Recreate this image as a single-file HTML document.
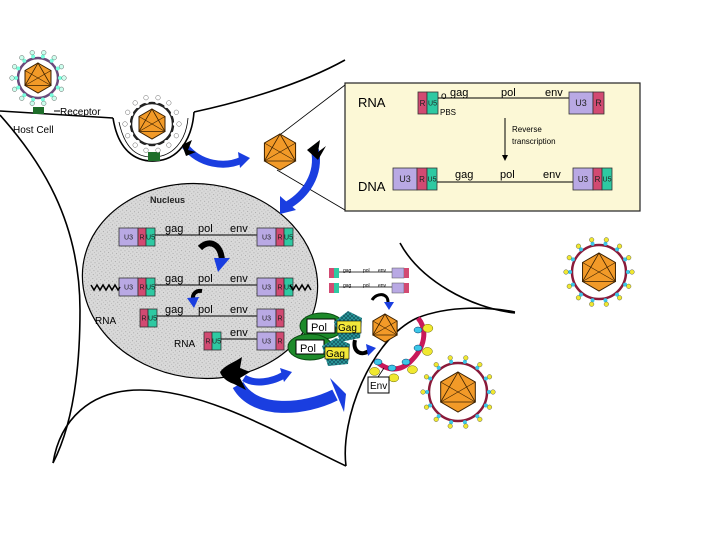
<!DOCTYPE html>
<html><head><meta charset="utf-8"><style>
html,body{margin:0;padding:0;background:#fff;width:720px;height:540px;overflow:hidden}
svg{display:block}
text{font-family:"Liberation Sans",sans-serif}
</style></head><body>
<svg id="s" width="720" height="540" viewBox="0 0 720 540" xmlns="http://www.w3.org/2000/svg">
<defs>
<pattern id="dots" width="4" height="4" patternUnits="userSpaceOnUse">
<rect width="4" height="4" fill="#d9d9d9"/><rect x="1" y="1" width="1" height="1" fill="#a8a8a8"/><rect x="3" y="3" width="1" height="1" fill="#bbb"/>
</pattern>
<pattern id="hatch" width="4" height="4" patternUnits="userSpaceOnUse">
<rect width="4" height="4" fill="#2a9a9a"/><path d="M0 0L4 4M4 0L0 4" stroke="#145" stroke-width="0.6"/>
</pattern>
</defs>
<!-- cell outlines -->
<g fill="none" stroke="#000" stroke-width="1.6">
<path d="M0 111 L113 118"/>
<path d="M113 118 C118 150 135 162 155 161 C178 160 192 140 194 112"/>
<path d="M194 112 C240 102 300 85 345 60"/>
<path d="M0 115 C40 160 80 220 80 310 C80 380 70 430 53 463"/>
<path d="M53 463 C60 420 90 390 140 390 C210 390 290 440 346 466"/>
<path d="M346 466 C340 420 370 340 417 318"/>
<path d="M417 318 C450 305 490 307 515 312"/>
<path d="M400 243 C420 280 470 308 515 313"/>
</g>
<g fill="none" stroke="#000" stroke-width="0.8">
<path d="M119 122 C125 150 138 158 155 157 C172 156 186 142 188 118"/>
<path d="M277 137 L345 85"/>
<path d="M277 170 L345 210"/>
</g>
<!-- receptor labels -->
<line x1="54" y1="111" x2="60" y2="111" stroke="#000"/>
<text x="60" y="115" font-size="10">Receptor</text>
<text x="13" y="133" font-size="10">Host Cell</text>
<rect x="33" y="107" width="11" height="7" fill="#1f6e2a"/>
<rect x="148" y="152" width="12" height="9" fill="#1f6e2a"/>
<!-- RNA box -->
<rect x="345" y="83" width="295" height="128" fill="#fcf8d6" stroke="#222" stroke-width="1.2"/>
<text x="358" y="107" font-size="13">RNA</text>
<text x="358" y="191" font-size="13">DNA</text>
<text x="512" y="132" font-size="8">Reverse</text>
<text x="512" y="144" font-size="8">transcription</text>
<line x1="505" y1="118" x2="505" y2="156" stroke="#000"/>
<path d="M502 155 L508 155 L505 161Z" fill="#000"/>
<text x="440" y="115" font-size="8">PBS</text>
<text x="441" y="99" font-size="10">o</text>
<!-- nucleus -->
<ellipse cx="200" cy="281" rx="118" ry="97" fill="url(#dots)" stroke="#000" stroke-width="1.2" transform="rotate(8 200 281)"/>
<text x="150" y="203" font-size="9" font-weight="bold" fill="#222">Nucleus</text>
<text x="95" y="324" font-size="10">RNA</text>
<text x="174" y="347" font-size="10">RNA</text>
<g id="gen"></g>
<!-- squiggles -->
<path d="M91 285 l3 5 l3 -5 l3 5 l3 -5 l3 5 l3 -5 l3 5 l3 -5 l3 5 l2 -3" fill="none" stroke="#000" stroke-width="1.5"/>
<path d="M290 285 l3 5 l3 -5 l3 5 l3 -5 l3 5 l3 -5 l3 5" fill="none" stroke="#000" stroke-width="1.5"/>
<!-- small curved arrows in nucleus -->
<path d="M200 248 C210 238 222 245 222 262" fill="none" stroke="#000" stroke-width="6"/>
<path d="M214 258 L230 258 L218 272Z" fill="#1a3ee0"/>
<path d="M202 291 C196 290 192 294 193 300" fill="none" stroke="#000" stroke-width="4"/>
<path d="M187 298 L199 297 L194 308Z" fill="#1a3ee0"/>
<!-- Pol Gag -->
<ellipse cx="322" cy="326" rx="22" ry="13" fill="#1d8a2a" stroke="#0a4a12"/>
<ellipse cx="310" cy="347" rx="22" ry="13" fill="#1d8a2a" stroke="#0a4a12"/>
<rect x="307" y="319" width="28" height="14" fill="#fff" stroke="#000"/>
<text x="311" y="331" font-size="11">Pol</text>
<rect x="296" y="340" width="28" height="14" fill="#fff" stroke="#000"/>
<text x="300" y="352" font-size="11">Pol</text>
<path d="M348 311 L362 318 L360 338 L340 342 L334 322Z" fill="url(#hatch)"/>
<rect x="337" y="321" width="24" height="12" fill="#f2e83a" stroke="#000" stroke-width="0.6"/>
<text x="338" y="331" font-size="10">Gag</text>
<path d="M336 338 L350 344 L348 364 L328 366 L322 346Z" fill="url(#hatch)"/>
<rect x="325" y="347" width="24" height="12" fill="#f2e83a" stroke="#000" stroke-width="0.6"/>
<text x="326" y="357" font-size="10">Gag</text>
<!-- small genomes -->
<g id="sm"></g>
<path d="M372 300 C377 292 388 293 388 302" fill="none" stroke="#000" stroke-width="3"/>
<path d="M384 302 L394 302 L389 310Z" fill="#1a3ee0"/>
<path d="M355 340 C352 352 362 357 370 350" fill="none" stroke="#000" stroke-width="4"/>
<path d="M366 344 L376 348 L368 356Z" fill="#1a3ee0"/>
<!-- budding membrane -->
<path d="M418 318 C428 330 425 348 410 362 C398 373 385 370 375 360" fill="none" stroke="#c8195a" stroke-width="5"/>
<g id="env"></g>
<rect x="368" y="377" width="21" height="16" fill="#fff" stroke="#000"/>
<text x="370" y="389" font-size="10">Env</text>
<line x1="378" y1="377" x2="384" y2="368" stroke="#000" stroke-width="0.8"/>
<!-- big arrows -->
<path d="M185 146 C200 165 225 168 242 160" fill="none" stroke="#1a3ee0" stroke-width="7"/>
<path d="M238 152 L250 158 L240 168Z" fill="#1a3ee0"/>
<path d="M182 145 L192 140 L188 150 L196 152 L186 156Z" fill="#000"/>
<path d="M315 150 C320 175 305 195 288 205" fill="none" stroke="#1a3ee0" stroke-width="8"/>
<path d="M280 196 L296 210 L280 214Z" fill="#1a3ee0"/>
<path d="M307 150 L320 140 L318 152 L326 146 L318 160Z" fill="#000"/>
<path d="M238 385 C255 415 305 410 335 395" fill="none" stroke="#1a3ee0" stroke-width="12"/>
<path d="M330 378 L346 394 L344 412Z" fill="#1a3ee0"/>
<path d="M244 378 C255 385 272 382 284 375" fill="none" stroke="#1a3ee0" stroke-width="7"/>
<path d="M280 368 L292 372 L284 382Z" fill="#1a3ee0"/>
<path d="M220 372 C225 365 235 362 242 357 L240 368 L250 372 L240 378 L246 390 L234 384 C228 382 222 378 220 372Z" fill="#000"/>
<g id="vir"></g>
</svg>
<script>
const NS="http://www.w3.org/2000/svg";
function el(p,t,a,txt){const e=document.createElementNS(NS,t);for(const k in a)e.setAttribute(k,a[k]);if(txt)e.textContent=txt;p.appendChild(e);return e;}
const C={U3:"#b9a9e4",R:"#d24a72",U5:"#2ec9a2"};
function box(g,x,y,w,h,k,fs){el(g,"rect",{x,y,width:w,height:h,fill:C[k],stroke:"#333","stroke-width":0.8});if(fs)el(g,"text",{x:x+w/2,y:y+h/2+fs*0.35,"font-size":fs,"text-anchor":"middle",fill:"#222"},k);}
const G=document.getElementById("gen");
// RNA box
box(G,418,92,9,22,"R",8);box(G,427,92,11,22,"U5",7);
el(G,"line",{x1:438,y1:98,x2:569,y2:98,stroke:"#000"});
box(G,569,92,24,22,"U3",9);box(G,593,92,11,22,"R",9);
[["gag",450],["pol",501],["env",545]].forEach(a=>el(G,"text",{x:a[1],y:96,"font-size":11},a[0]));
box(G,393,168,24,22,"U3",9);box(G,417,168,10,22,"R",8);box(G,427,168,10,22,"U5",7);
el(G,"line",{x1:437,y1:182,x2:573,y2:182,stroke:"#000"});
box(G,573,168,20,22,"U3",8);box(G,593,168,9,22,"R",8);box(G,602,168,10,22,"U5",7);
[["gag",455],["pol",500],["env",543]].forEach(a=>el(G,"text",{x:a[1],y:178,"font-size":11},a[0]));
// nucleus rows
function row(y,left,right,labels){
 let x=left.x0;left.k.forEach(([k,w])=>{box(G,x,y,w,18,k,7);x+=w;});
 el(G,"line",{x1:x,y1:y+7,x2:257,y2:y+7,stroke:"#000"});
 let x2=257;right.forEach(([k,w])=>{box(G,x2,y,w,18,k,7);x2+=w;});
 labels.forEach(a=>el(G,"text",{x:a[1],y:y+4,"font-size":11},a[0]));
}
const L3=[["U3",19],["R",8],["U5",9]];
row(228,{x0:119,k:L3},L3,[["gag",165],["pol",198],["env",230]]);
row(278,{x0:119,k:L3},L3,[["gag",165],["pol",198],["env",230]]);
row(309,{x0:140,k:[["R",8],["U5",9]]},[["U3",19],["R",8]],[["gag",165],["pol",198],["env",230]]);
row(332,{x0:204,k:[["R",8],["U5",9]]},[["U3",19],["R",8]],[["env",230]]);
// small genomes
const S=document.getElementById("sm");
[268,283].forEach(y=>{
 el(S,"rect",{x:329,y,width:5,height:10,fill:C.R});el(S,"rect",{x:334,y,width:5,height:10,fill:C.U5});
 el(S,"line",{x1:339,y1:y+4,x2:392,y2:y+4,stroke:"#000","stroke-width":0.8});
 el(S,"rect",{x:392,y,width:12,height:10,fill:C.U3,stroke:"#555","stroke-width":0.5});el(S,"rect",{x:404,y,width:5,height:10,fill:C.R});
 [["gag",343],["pol",363],["env",378]].forEach(a=>el(S,"text",{x:a[1],y:y+4,"font-size":5},a[0]));
});
// env proteins on budding membrane
const E=document.getElementById("env");
[[418,330],[418,348],[406,362],[392,368],[378,362]].forEach(([x,y],i)=>{
 const ang=[-10,20,50,80,110][i]*Math.PI/180;
 el(E,"ellipse",{cx:x,cy:y,rx:4,ry:3,fill:"#3cc7e8",stroke:"#036","stroke-width":0.5});
 el(E,"ellipse",{cx:x+10*Math.cos(ang),cy:y+10*Math.sin(ang),rx:5,ry:4,fill:"#f0e830",stroke:"#660","stroke-width":0.5});
});
// viruses
const V=document.getElementById("vir");
function capsid(cx,cy,r){
 const p=[];for(let i=0;i<6;i++){const a=(i*60-90)*Math.PI/180;p.push([cx+r*Math.cos(a),cy+r*Math.sin(a)]);}
 el(V,"polygon",{points:p.map(q=>q.join(",")).join(" "),fill:"#f29a28",stroke:"#3a2000","stroke-width":1});
 el(V,"polygon",{points:[p[0],p[2],p[4]].map(q=>q.join(",")).join(" "),fill:"none",stroke:"#3a2000","stroke-width":0.8});
 el(V,"line",{x1:p[2][0],y1:p[2][1],x2:p[5][0],y2:p[5][1],stroke:"#3a2000","stroke-width":0.6});
 el(V,"line",{x1:p[1][0],y1:p[1][1],x2:p[4][0],y2:p[4][1],stroke:"#3a2000","stroke-width":0.6});
}
function virus(cx,cy,R,r,n,mem,knob,head){
 el(V,"circle",{cx,cy,r:R,fill:"#fff",stroke:mem,"stroke-width":2.5});
 for(let i=0;i<n;i++){const a=i*2*Math.PI/n;
  el(V,"line",{x1:cx+R*Math.cos(a),y1:cy+R*Math.sin(a),x2:cx+(R+5)*Math.cos(a),y2:cy+(R+5)*Math.sin(a),stroke:"#247","stroke-width":1});
  el(V,"circle",{cx:cx+(R+2)*Math.cos(a),cy:cy+(R+2)*Math.sin(a),r:2,fill:knob});
  el(V,"circle",{cx:cx+(R+6)*Math.cos(a),cy:cy+(R+6)*Math.sin(a),r:2.3,fill:head,stroke:"#444","stroke-width":0.4});
 }
 capsid(cx,cy,r);
}
virus(38,78,20,15,14,"#6a4a7a","#7fd","#cfe");
virus(152,124,21,15,14,"#222","#fff","#fff");
capsid(280,152,18);
capsid(385,328,14);
virus(599,272,27,19,14,"#8a1a3a","#3cc7e8","#f0e830");
virus(458,392,29,20,14,"#8a1a3a","#3cc7e8","#f0e830");
</script>
</body></html>
